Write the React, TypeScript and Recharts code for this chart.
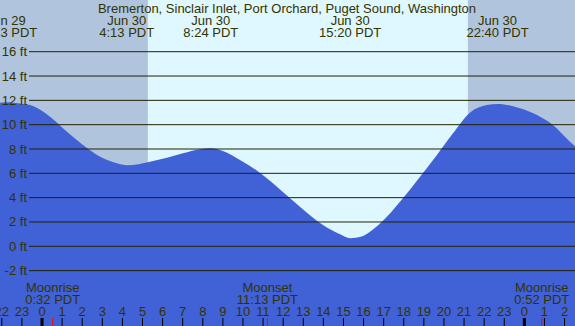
import { Area, ComposedChart, ReferenceArea, ReferenceLine, XAxis, YAxis } from "recharts"

const FONT = "'Liberation Sans', Arial, sans-serif"
const INK = "#333300"
const LINE = "#222200"
const FS = 13

// tide height (ft), hours from midnight Jun 30
const hours = [
  -2.09, -1.78, -1.0, -0.45, 0.4, 1.24, 2.04, 2.89, 3.73, 4.22, 5.37, 6.22, 7.01, 7.86, 8.4, 9.0,
  9.85, 10.7, 11.49, 12.34, 13.18, 13.98, 14.83, 15.33, 15.9, 16.32, 17.16, 17.96, 18.81, 19.65,
  20.45, 21.29, 22.14, 22.67, 23.78, 24.63, 25.42, 26.27, 26.52,
]
const feet = [
  11.8, 11.84, 11.72, 11.54, 10.66, 9.42, 8.33, 7.37, 6.83, 6.66, 6.96, 7.29, 7.65, 7.98, 8.06, 7.84,
  7.1, 6.22, 5.18, 3.95, 2.77, 1.75, 0.99, 0.66, 0.8, 1.2, 2.43, 3.95, 5.72, 7.51,
  9.29, 10.99, 11.62, 11.7, 11.35, 10.8, 9.97, 8.6, 8.25,
]

const extremeTimes = [-1.783, 4.217, 8.4, 15.333, 22.667]
const extremeDates = ["Jun 29", "Jun 30", "Jun 30", "Jun 30", "Jun 30"]
const extremeLabels = ["22:13 PDT", "4:13 PDT", "8:24 PDT", "15:20 PDT", "22:40 PDT"]

const moonTimes = [0.533, 11.217, 24.867]
const moonEvents = ["Moonrise", "Moonset", "Moonrise"]
const moonLabels = ["0:32 PDT", "11:13 PDT", "0:52 PDT"]

const sunrise = 5.27
const sunset = 21.19

const hourTicks = [-2, -1, 0, 1, 2, 3, 4, 5, 6, 7, 8, 9, 10, 11, 12, 13, 14, 15, 16, 17, 18, 19, 20, 21, 22, 23, 24, 25, 26]
const ftTicks = [-2, 0, 2, 4, 6, 8, 10, 12, 14, 16]

const TITLE = "Bremerton, Sinclair Inlet, Port Orchard, Puget Sound, Washington"

const X_DOMAIN: [number, number] = [-2.09, 26.52]
const Y_DOMAIN: [number, number] = [-6.55, 20.25]

const W = 575
const H = 326

const tide = hours.map((h, i) => ({ h, ft: feet[i] }))

function FtTick({ y, payload }: any) {
  return (
    <g>
      <line x1={29} x2={W} y1={y} y2={y} stroke={LINE} strokeWidth={1} />
      <text x={27} y={y + 4.5} textAnchor="end" fontFamily={FONT} fontSize={FS} fill={INK}>
        {payload.value} ft
      </text>
    </g>
  )
}

function HourTick({ x, payload }: any) {
  const v = payload.value
  const midnight = v % 24 === 0
  return (
    <g>
      <text x={x} y={315.5} textAnchor="middle" fontFamily={FONT} fontSize={FS} fill={INK}>
        {((v % 24) + 24) % 24}
      </text>
      <line x1={x} x2={x} y1={318} y2={H} stroke="#000" strokeWidth={midnight ? 3 : 1} />
    </g>
  )
}

export default function App() {
  return (
    <div style={{ position: "absolute", left: 0, top: 0, width: W, height: H }}>
      <ComposedChart width={W} height={H} data={tide} margin={{ top: 0, right: 0, bottom: 0, left: 0 }}>
        <ReferenceArea x1={X_DOMAIN[0]} x2={sunrise} fill="#b0c4de" fillOpacity={1} stroke="none" />
        <ReferenceArea x1={sunrise} x2={sunset} fill="#dff7fe" fillOpacity={1} stroke="none" />
        <ReferenceArea x1={sunset} x2={X_DOMAIN[1]} fill="#b0c4de" fillOpacity={1} stroke="none" />
        <Area
          dataKey="ft"
          type="monotone"
          baseValue="dataMin"
          fill="#4161d6"
          fillOpacity={1}
          stroke="none"
          dot={false}
          activeDot={false}
          isAnimationActive={false}
        />
        <XAxis
          dataKey="h"
          type="number"
          domain={X_DOMAIN}
          ticks={hourTicks}
          interval={0}
          mirror
          axisLine={false}
          tickLine={false}
          tickSize={0}
          tickMargin={0}
          tick={<HourTick />}
          allowDataOverflow
        />
        <YAxis
          type="number"
          domain={Y_DOMAIN}
          ticks={ftTicks}
          interval={0}
          mirror
          axisLine={false}
          tickLine={false}
          tickSize={0}
          tickMargin={0}
          tick={<FtTick />}
          allowDataOverflow
        />
        {extremeTimes.map((t, i) => (
          <ReferenceLine
            key={"e" + i}
            x={t}
            stroke="none"
            label={(p: any) => (
              <g>
                <text x={p.viewBox.x} y={25} textAnchor="middle" fontFamily={FONT} fontSize={FS} fill={INK}>
                  {extremeDates[i]}
                </text>
                <text x={p.viewBox.x} y={36.5} textAnchor="middle" fontFamily={FONT} fontSize={FS} fill={INK}>
                  {extremeLabels[i]}
                </text>
              </g>
            )}
          />
        ))}
        {moonTimes.map((t, i) => (
          <ReferenceLine
            key={"m" + i}
            x={t}
            stroke="none"
            label={(p: any) => (
              <g>
                <text x={p.viewBox.x} y={292} textAnchor="middle" fontFamily={FONT} fontSize={FS} fill={INK}>
                  {moonEvents[i]}
                </text>
                <text x={p.viewBox.x} y={304} textAnchor="middle" fontFamily={FONT} fontSize={FS} fill={INK}>
                  {moonLabels[i]}
                </text>
                <line x1={p.viewBox.x} x2={p.viewBox.x} y1={318} y2={H} stroke="#ff0000" strokeWidth={1} />
              </g>
            )}
          />
        ))}
      </ComposedChart>
      <svg
        width={W}
        height={20}
        style={{ position: "absolute", left: 0, top: 0, pointerEvents: "none" }}
      >
        <text x={287} y={12.5} textAnchor="middle" fontFamily={FONT} fontSize={FS} fill={INK}>
          {TITLE}
        </text>
      </svg>
    </div>
  )
}
